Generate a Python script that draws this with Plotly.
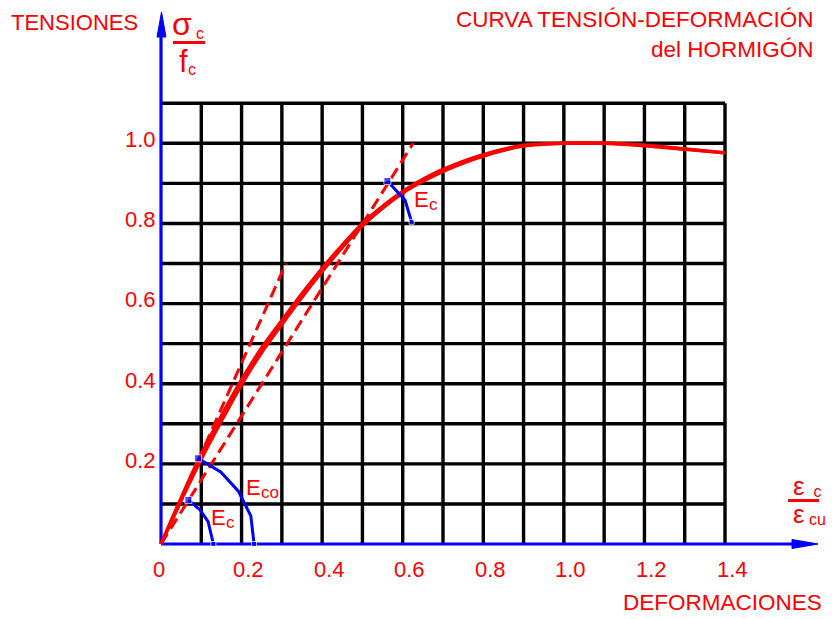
import plotly.graph_objects as go

# ---------------- data ----------------
strain = [0, 0.05, 0.1, 0.15, 0.2, 0.25, 0.3, 0.35, 0.4, 0.45, 0.5, 0.55,
          0.6, 0.65, 0.7, 0.8, 0.9, 1.0, 1.1, 1.2, 1.3, 1.4]
stress_a = [0, 0.115, 0.225, 0.32, 0.41, 0.49, 0.558, 0.625, 0.688, 0.746, 0.80, 0.843,
            0.88, 0.91, 0.935, 0.972, 0.995, 1.0, 1.0, 0.995, 0.986, 0.976]
stress_b = [0, 0.108, 0.212, 0.307, 0.398, 0.478, 0.548, 0.616, 0.68, 0.74, 0.794, 0.838,
            0.876, 0.905, 0.93, 0.968, 0.993, 1.0, 1.0, 0.994, 0.985, 0.976]

tangent_x = [0, 0.31]
tangent_y = [0, 0.70]
secant_x = [0, 0.626]
secant_y = [0, 1.0]

ec_low_x = [0.068, 0.097, 0.117, 0.13]
ec_low_y = [0.11, 0.085, 0.056, 0.0]
eco_x = [0.092, 0.149, 0.192, 0.223, 0.231]
eco_y = [0.214, 0.179, 0.132, 0.07, 0.0]
ec_up_x = [0.562, 0.606, 0.622]
ec_up_y = [0.906, 0.858, 0.804]

grid_x = [0.1, 0.2, 0.3, 0.4, 0.5, 0.6, 0.7, 0.8, 0.9, 1.0, 1.1, 1.2, 1.3, 1.4]
grid_y = [0.1, 0.2, 0.3, 0.4, 0.5, 0.6, 0.7, 0.8, 0.9, 1.0, 1.1]

xtick_vals = [0, 0.2, 0.4, 0.6, 0.8, 1.0, 1.2, 1.4]
xtick_text = ["0", "0.2", "0.4", "0.6", "0.8", "1.0", "1.2", "1.4"]
ytick_vals = [0.2, 0.4, 0.6, 0.8, 1.0]
ytick_text = ["0.2", "0.4", "0.6", "0.8", "1.0"]

# ---------------- layout helpers ----------------
W, H = 832, 619
X0, XS = 161.0, 402.86   # pixel of x=0, pixels per unit
Y0, YS = 544.0, 400.7    # pixel of y=0, pixels per unit


def px2x(px):
    return (px - X0) / XS


def py2y(py):
    return (Y0 - py) / YS


RED = "#ff0000"
BLUE = "#0000ff"
FONT = "Liberation Sans, Arial, sans-serif"

fig = go.Figure()

# grid
gx, gy = [], []
top = max(grid_y)
right = max(grid_x)
for v in grid_x:
    gx += [v, v, None]
    gy += [0, top, None]
for v in grid_y:
    gx += [0, right, None]
    gy += [v, v, None]
fig.add_trace(go.Scatter(x=gx, y=gy, mode="lines",
                         line=dict(color="black", width=3.4), hoverinfo="skip"))

# blue axes
fig.add_trace(go.Scatter(x=[0, 0, None, 0, px2x(795)],
                         y=[0, py2y(35), None, 0, 0], mode="lines",
                         line=dict(color=BLUE, width=3.2), hoverinfo="skip"))
# arrowheads
fig.add_trace(go.Scatter(x=[px2x(157), px2x(161.5), px2x(166), px2x(157)],
                         y=[py2y(37), py2y(12), py2y(37), py2y(37)],
                         mode="lines", fill="toself", fillcolor=BLUE,
                         line=dict(color=BLUE, width=1), hoverinfo="skip"))
fig.add_trace(go.Scatter(x=[px2x(792), px2x(818), px2x(792), px2x(792)],
                         y=[py2y(539.5), py2y(544), py2y(548.5), py2y(539.5)],
                         mode="lines", fill="toself", fillcolor=BLUE,
                         line=dict(color=BLUE, width=1), hoverinfo="skip"))

# dashed tangent / secant
for xs, ys in ((tangent_x, tangent_y), (secant_x, secant_y)):
    fig.add_trace(go.Scatter(x=xs, y=ys, mode="lines",
                             line=dict(color=RED, width=3, dash="12px,6px"),
                             hoverinfo="skip"))

# main curve (two pen strokes)
for ys in (stress_a, stress_b):
    fig.add_trace(go.Scatter(x=strain, y=ys, mode="lines",
                             line=dict(color=RED, width=3.4, shape="spline",
                                       smoothing=0.8),
                             hoverinfo="skip"))

# blue modulus arcs
for xs, ys in ((ec_low_x, ec_low_y), (eco_x, eco_y), (ec_up_x, ec_up_y)):
    fig.add_trace(go.Scatter(x=xs, y=ys, mode="lines", line=dict(color=BLUE, width=3),
                             hoverinfo="skip"))
    fig.add_trace(go.Scatter(x=[xs[0], xs[-1]], y=[ys[0], ys[-1]], mode="markers",
                             marker=dict(color=BLUE, size=[7, 5], symbol="square"),
                             hoverinfo="skip"))

annotations = []


def txt(text, px, baseline, fs, anchor="left", color=RED, cy=None):
    # vertical centre of the text box from the baseline
    if cy is None:
        cy = baseline - 0.3465 * fs
    annotations.append(dict(
        x=px2x(px), y=py2y(cy), xref="x", yref="y", text=text,
        showarrow=False, xanchor=anchor, yanchor="middle",
        borderpad=0, borderwidth=0,
        font=dict(family=FONT, size=fs, color=color)))


# tick labels
for v, t in zip(xtick_vals, xtick_text):
    off = -2 if t == "0" else 7
    txt(t, X0 + v * XS + off, 577.5, 22, anchor="center")
for v, t in zip(ytick_vals, ytick_text):
    txt(t, 155.5, Y0 - v * YS + 4, 22, anchor="right")

# headings
txt("TENSIONES", 10.5, 30, 22)
txt("CURVA TENSIÓN-DEFORMACIÓN", 814, 27, 22.5, anchor="right")
txt("del HORMIGÓN", 814, 57, 22.5, anchor="right")
txt("DEFORMACIONES", 623, 610, 22.5)

# modulus labels
txt("E", 210.5, 525, 22)
txt("c", 225.6, 528.5, 17)
txt("E", 245.5, 495, 22)
txt("co", 260.8, 498.5, 17)
txt("E", 413.5, 207, 22)
txt("c", 428.6, 210.5, 17)

# y-axis quantity  sigma_c / f_c
txt("σ", 171.5, 35, 32)
txt("c", 195.5, 39, 16)
txt("f", 178.5, 72, 31)
txt("c", 187.8, 75, 16)

# x-axis quantity  eps_c / eps_cu  (stacked in one text, line pitch 28 px)
EPS = "<span style='font-size:26px'>ε</span>"
txt(EPS + "<br>" + EPS, 793, 495, 21.54, cy=500.0)
SUBA = "<span style='font-size:16px'>c</span>"
SUBB = "<span style='font-size:16px'>cu</span>"
txt(SUBA + "<br>" + SUBB, 808.5, 497, 21.54, cy=505.5)

# fraction bars
fig.add_trace(go.Scatter(x=[px2x(173), px2x(205), None, px2x(788), px2x(819)],
                         y=[py2y(42.5), py2y(42.5), None, py2y(500.5), py2y(500.5)],
                         mode="lines", line=dict(color=RED, width=3), hoverinfo="skip"))

fig.update_layout(
    width=W, height=H,
    margin=dict(l=0, r=0, t=0, b=0),
    paper_bgcolor="white", plot_bgcolor="white",
    showlegend=False,
    xaxis=dict(range=[px2x(0), px2x(W)], visible=False, fixedrange=True),
    yaxis=dict(range=[py2y(H), py2y(0)], visible=False, fixedrange=True),
    annotations=annotations,
)

fig.write_html("out.html")
